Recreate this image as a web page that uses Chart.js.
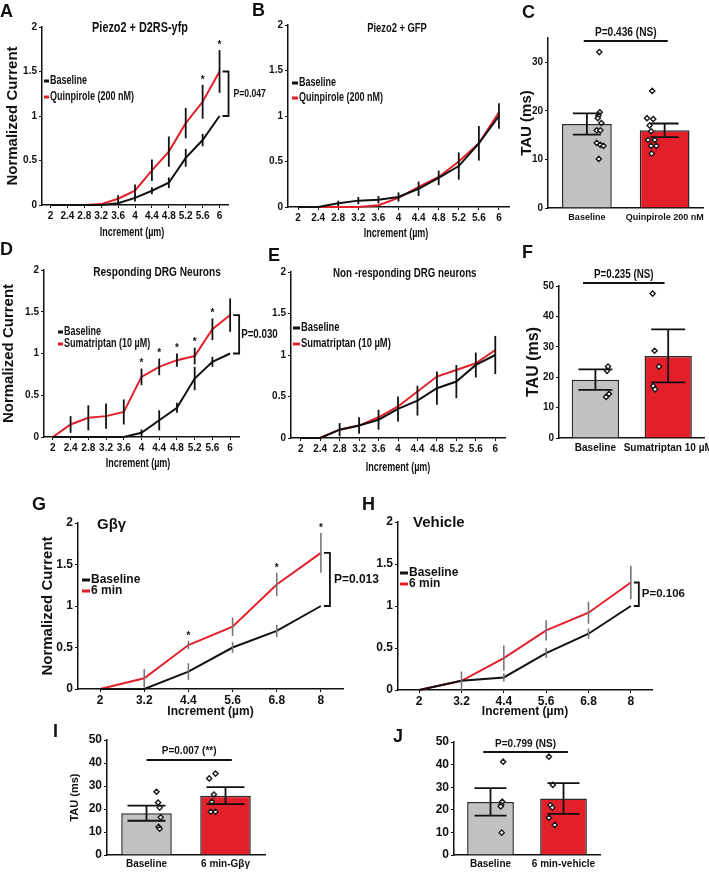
<!DOCTYPE html>
<html>
<head>
<meta charset="utf-8">
<script src="https://cdn.jsdelivr.net/npm/chart.js@4.4.0/dist/chart.umd.min.js"></script>
<style>
body{margin:0;background:#fff;}
#wrap{position:relative;width:709px;height:872px;overflow:hidden;background:#fff;}
canvas{position:absolute;}
.t{position:absolute;white-space:nowrap;color:#111;font-weight:bold;line-height:1;}
</style>
</head>
<body>
<div id="wrap"></div>
<script>
const ARIAL = "'Liberation Sans',Arial,sans-serif";
const NX = 0.75;   // horizontal squeeze used to mimic the narrow face
const RED = '#e3202a';
const GRAY = '#c2c2c2';

//---------------- data ----------------
const incLabels  = ['2','2.4','2.8','3.2','3.6','4','4.4','4.8','5.2','5.6','6'];
const incLabels2 = ['2','3.2','4.4','5.6','6.8','8'];

// A  Piezo2 + D2RS-yfp
const aBase    = [0,0,0,0,0.02,0.08,0.16,0.25,0.53,0.73,1.0];
const aBaseErr = [0,0,0,0,0.02,0.04,0.04,0.06,0.1,0.07,0];
const aQuin    = [0,0,0,0.01,0.07,0.16,0.39,0.6,0.92,1.16,1.5];
const aQuinErr = [0,0,0,0,0.04,0.07,0.12,0.17,0.17,0.19,0.24];
const aStars   = [9,10];

// B  Piezo2 + GFP
const bBase    = [0,0,0.04,0.07,0.08,0.11,0.2,0.32,0.45,0.7,1.0];
const bBaseErr = [0,0,0.03,0.04,0.04,0.05,0.08,0.08,0.15,0.19,0.14];
const bQuin    = [0,0,0,0,0.02,0.1,0.22,0.33,0.5,0.7,1.04];

// C  TAU quinpirole
const cNames   = ['Baseline','Quinpirole 200 nM'];
const cMean    = [17.3,16.0];
const cSem     = [2.2,1.4];
const cBasePts = [32.1,19.7,19.0,18.5,17.5,16.0,16.0,13.4,13.0,12.8,10.1];
const cQuinPts = [24.1,18.5,18.3,17.0,15.8,14.0,14.0,12.8,12.8,11.2];

// D  Responding DRG neurons
const dBase    = [0,0,0,0,0,0.05,0.2,0.35,0.7,0.9,1.0];
const dBaseErr = [0,0,0,0,0,0.04,0.12,0.06,0.14,0.06,0];
const dSuma    = [0,0.15,0.23,0.25,0.3,0.72,0.84,0.92,0.97,1.29,1.46];
const dSumaErr = [0,0.1,0.15,0.15,0.15,0.1,0.1,0.08,0.1,0.13,0.2];
const dStars   = [5,6,7,8,9];

// E  Non-responding DRG neurons
const eBase    = [0,0,0.1,0.15,0.22,0.35,0.45,0.6,0.68,0.88,1.0];
const eBaseErr = [0,0,0.08,0.1,0.12,0.15,0.18,0.2,0.2,0.15,0.23];
const eSuma    = [0,0,0.1,0.15,0.25,0.38,0.56,0.74,0.82,0.9,1.06];

// F  TAU sumatriptan
const fNames   = ['Baseline','Sumatriptan 10 µM'];
const fMean    = [19.2,27.0];
const fSem     = [3.4,8.7];
const fBasePts = [23.5,22.1,14.5,13.5];
const fSumaPts = [47.5,28.7,23.5,17.1,16.0];

// G  Gβγ
const gBase    = [0,0,0.21,0.5,0.7,1.0];
const gBaseErr = [0,0,0.1,0.065,0.075,0];
const gMin     = [0,0.13,0.53,0.75,1.26,1.64];
const gMinErr  = [0,0.11,0.05,0.11,0.14,0.24];
const gStars   = [2,4,5];

// H  Vehicle
const hBase    = [0,0.11,0.15,0.44,0.67,1.0];
const hBaseErr = [0,0,0.05,0.06,0.06,0];
const hMin     = [0,0.11,0.38,0.71,0.92,1.28];
const hMinErr  = [0,0.11,0.15,0.12,0.13,0.2];

// I  TAU Gβγ
const iNames   = ['Baseline','6 min-Gβγ'];
const iMean    = [18.2,25.8];
const iSem     = [3.3,3.7];
const iBasePts = [27.5,22.8,20.6,16.4,12.2,11.4];
const iMinPts  = [33.3,35.4,26.3,23.2,18.8,18.8];

// J  TAU vehicle
const jNames   = ['Baseline','6 min-vehicle'];
const jMean    = [23.5,25.0];
const jSem     = [6.1,6.8];
const jBasePts = [41.3,23.6,22.1,21.5,9.9];
const jMinPts  = [43.5,31.0,22.1,21.0,16.5,13.3];

//---------------- layout helpers ----------------
// scatter jitter (category units)
const cJit = [[-0.01,0,-0.03,-0.04,0.03,-0.06,0.01,-0.06,0.01,0.07,-0.02],[0.01,-0.09,0.03,-0.04,-0.01,-0.07,0.06,-0.01,0.09,0]];
const fJit = [[0.01,-0.01,0.03,-0.03],[-0.07,-0.03,0.06,-0.06,-0.02]];
const iJit = [[-0.06,-0.03,0,0.02,-0.02,0],[-0.06,0.06,0.03,-0.01,-0.03,0.06]];
const jJit = [[0.01,-0.01,-0.03,-0.04,-0.02],[-0.05,0.03,-0.02,0.02,-0.05,0.07]];

const wrap = document.getElementById('wrap');

function txt(x, y, s, size, center, sx){
	const d = document.createElement('div');
	d.className = 't';
	d.textContent = s;
	d.style.left = x + 'px';
	d.style.top = y + 'px';
	d.style.fontSize = size + 'px';
	d.style.fontFamily = ARIAL;
	d.style.transformOrigin = center ? '50% 50%' : '0 50%';
	d.style.transform = (center ? 'translate(-50%,-50%)' : 'translate(0,-50%)') + ' scaleX(' + (sx || 1) + ')';
	wrap.appendChild(d);
}

function place(p){
	const c = document.createElement('canvas');
	c.width = p.W; c.height = p.H;
	c.style.left = p.L + 'px'; c.style.top = p.T + 'px';
	c.style.width = p.W + 'px'; c.style.height = p.H + 'px';
	wrap.appendChild(c);
	return c;
}

function ftext(ctx, s, x, y, font, align, sx){
	ctx.save();
	ctx.font = font;
	ctx.textAlign = align;
	ctx.textBaseline = 'middle';
	ctx.fillStyle = '#111';
	ctx.translate(x, y);
	ctx.scale(sx || 1, 1);
	ctx.fillText(s, 0, 0);
	ctx.restore();
}

// error bars, stars, brackets, legend, significance line
const extras = {
	id: 'extras',
	afterDatasetsDraw(chart, args, o){
		const ctx = chart.ctx;
		const xs = chart.scales.x, ys = chart.scales.y;
		const ox = o.off[0], oy = o.off[1];
		ctx.save();
		(o.errs || []).forEach(e => {
			ctx.strokeStyle = e.color;
			ctx.lineWidth = e.width;
			e.mean.forEach((m, i) => {
				const d = e.err[i];
				if (!d) return;
				const x = xs.getPixelForValue(i);
				const y1 = ys.getPixelForValue(m - d), y2 = ys.getPixelForValue(m + d);
				ctx.beginPath();
				ctx.moveTo(x, y1); ctx.lineTo(x, y2);
				if (e.cap){
					ctx.moveTo(x - e.cap, y1); ctx.lineTo(x + e.cap, y1);
					ctx.moveTo(x - e.cap, y2); ctx.lineTo(x + e.cap, y2);
				}
				ctx.stroke();
			});
		});
		if (o.stars){
			const s = o.stars;
			s.idx.forEach(i => {
				const x = xs.getPixelForValue(i);
				const y = ys.getPixelForValue(s.mean[i] + s.err[i]) - 5;
				ftext(ctx, '*', x, y, s.font, 'center', 1);
			});
		}
		if (o.bracket && o.bracket.text){
			const b = o.bracket;
			const x = xs.getPixelForValue(b.i);
			const yh = ys.getPixelForValue(b.hi), yl = ys.getPixelForValue(b.lo);
			ctx.strokeStyle = '#111';
			ctx.lineWidth = 1.8;
			ctx.beginPath();
			ctx.moveTo(x + b.gap, yh); ctx.lineTo(x + b.gap + b.w, yh);
			ctx.lineTo(x + b.gap + b.w, yl); ctx.lineTo(x + b.gap, yl);
			ctx.stroke();
			ftext(ctx, b.text, x + b.gap + b.w + b.tx, (yh + yl) / 2, b.font, 'left', b.sx);
		}
		if (o.sig){
			const g = o.sig;
			const p0 = xs.getPixelForValue(0), p1 = xs.getPixelForValue(1);
			const x0 = p0 + g.from * (p1 - p0), x1 = p0 + g.to * (p1 - p0);
			const y = ys.getPixelForValue(g.v);
			ctx.strokeStyle = '#111';
			ctx.lineWidth = 2;
			ctx.beginPath(); ctx.moveTo(x0, y); ctx.lineTo(x1, y); ctx.stroke();
			ftext(ctx, g.text, (x0 + x1) / 2, y - g.dy, g.font, 'center', g.sx);
		}
		if (o.legend){
			const g = o.legend;
			chart.data.datasets.forEach((ds, k) => {
				const x = g.x - ox, y = g.y - oy + k * g.dy;
				ctx.fillStyle = ds.borderColor;
				ctx.fillRect(x, y - 1.5, g.w, 3);
				ftext(ctx, ds.label, x + g.w + 1, y, g.font, 'left', g.sx);
			});
		}
		ctx.restore();
	}
};

function axisBase(){
	return {
		grid: {drawOnChartArea:false, tickLength:3, color:'#111'},
		border: {color:'#111', width:1.5}
	};
}

function lineChart(p){
	const c = place(p);
	const n = p.labels.length - 1;
	new Chart(c, {
		type: 'line',
		data: {
			labels: p.labels,
			datasets: [
				{label: p.names[0], data: p.base, borderColor:'#111', borderWidth:2, pointRadius:0, tension:0, clip:6},
				{label: p.names[1], data: p.treat, borderColor:RED, borderWidth:2, pointRadius:0, tension:0, clip:6}
			]
		},
		options: {
			responsive:false, animation:false, devicePixelRatio:1,
			layout: {padding:{left:0, top:p.area.t - p.T, right:p.L + p.W - p.area.r, bottom:0}},
			plugins: {
				legend:{display:false}, tooltip:{enabled:false},
				extras: {
					off:[p.L, p.T],
					errs: p.errs,
					stars: p.stars,
					bracket: {i:n, hi:p.treat[n], lo:p.base[n], gap:3, w:p.bw || 6, tx:p.tx, text:p.pText, font:p.pFont, sx:p.pSx},
					legend: p.legend
				}
			},
			scales: {
				x: Object.assign(axisBase(), {
					type:'category', offset:true,
					ticks:{color:'#111', font:p.tickFont, padding:p.xPad || 2, maxRotation:0, autoSkip:false},
					title: p.xTitle ? {display:true, text:'Increment (µm)', color:'#111', font:p.xTitleFont, padding:{top:0, bottom:4}} : {display:false},
					afterFit: s => { s.height = p.T + p.H - p.area.b; }
				}),
				y: Object.assign(axisBase(), {
					min:0, max:2,
					ticks:{stepSize:0.5, color:'#111', font:p.tickFont, padding:2, callback: v => String(v)},
					title: p.yTitle ? {display:true, text:'Normalized Current', color:'#111', font:p.yTitleFont, padding:{top:p.yTitlePad, bottom:0}} : {display:false},
					afterFit: s => { s.width = p.area.l - p.L; }
				})
			}
		},
		plugins: [extras]
	});
}

function barChart(p){
	const c = place(p);
	const pts = p.pts[0].map((v, i) => ({x: p.jit[0][i], y: v}))
		.concat(p.pts[1].map((v, i) => ({x: 1 + p.jit[1][i], y: v})));
	new Chart(c, {
		type: 'bar',
		data: {
			labels: p.names,
			datasets: [
				{type:'bar', data:p.mean, backgroundColor:[GRAY, RED], borderColor:'#2a2a2a', borderWidth:1.5,
				 barPercentage:p.barPct, categoryPercentage:1, grouped:false, order:2},
				{type:'scatter', xAxisID:'xj', data:pts, pointStyle:'rectRot', pointRadius:2.6,
				 backgroundColor:'#fff', borderColor:'#1a1a1a', borderWidth:1.4, order:1}
			]
		},
		options: {
			responsive:false, animation:false, devicePixelRatio:1,
			layout: {padding:{left:0, top:p.area.t - p.T, right:p.L + p.W - p.area.r, bottom:0}},
			plugins: {
				legend:{display:false}, tooltip:{enabled:false},
				extras: {
					off:[p.L, p.T],
					errs: [{mean:p.mean, err:p.sem, color:'#111', width:1.8, cap:p.cap}],
					sig: p.sig
				}
			},
			scales: {
				x: {
					type:'category', offset:true,
					grid:{display:false, drawTicks:false},
					border:{color:'#111', width:1.5},
					ticks:{color:'#111', font:p.xFont, padding:p.xPad, maxRotation:0, autoSkip:false},
					afterFit: s => { s.height = p.T + p.H - p.area.b; }
				},
				xj: {type:'linear', min:-0.5, max:1.5, display:false},
				y: Object.assign(axisBase(), {
					min:0, max:p.ymax,
					ticks:{stepSize:10, color:'#111', font:p.tickFont, padding:2},
					afterBuildTicks: s => { s.ticks = s.ticks.filter(t => t.value % 10 === 0); },
					title: p.yTitle ? {display:true, text:'TAU (ms)', color:'#111', font:p.yTitleFont, padding:{top:p.yTitlePad, bottom:0}} : {display:false},
					afterFit: s => { s.width = p.area.l - p.L; }
				})
			}
		},
		plugins: [extras]
	});
}

const fA = s => ({family:ARIAL, size:s, weight:'bold'});
const bA = s => 'bold ' + s + 'px ' + ARIAL;

//---------------- panels ----------------
lineChart({
	L:0, T:10, W:290, H:232, area:{l:42, t:27, r:228, b:205},
	labels:incLabels, names:['Baseline','Quinpirole (200 nM)'], base:aBase, treat:aQuin,
	errs:[{mean:aBase, err:aBaseErr, color:'#111', width:1.8}, {mean:aQuin, err:aQuinErr, color:'#111', width:1.8}],
	stars:{idx:aStars, mean:aQuin, err:aQuinErr, font:bA(10)},
	pText:'P=0.047', pFont:bA(11.5), pSx:NX, tx:5,
	legend:{x:44, y:81, dy:16, w:5, font:bA(12), sx:NX},
	tickFont:fA(10), yTitle:true, yTitleFont:fA(15), yTitlePad:4
});

lineChart({
	L:262, T:10, W:252, H:234, area:{l:288, t:25, r:509, b:207},
	labels:incLabels, names:['Baseline','Quinpirole (200 nM)'], base:bBase, treat:bQuin,
	errs:[{mean:bBase, err:bBaseErr, color:'#111', width:1.8}],
	pText:'', tx:4,
	legend:{x:292, y:83, dy:15, w:6, font:bA(12), sx:NX},
	tickFont:fA(10), yTitle:false
});

barChart({
	L:514, T:15, W:195, H:213, area:{l:548, t:38, r:704, b:208},
	names:cNames, mean:cMean, sem:cSem, pts:[cBasePts, cQuinPts], jit:cJit,
	ymax:35, barPct:0.64, cap:14,
	sig:{from:-0.04, to:1.04, v:34.4, text:'P=0.436 (NS)', font:bA(13.5), sx:NX, dy:9},
	tickFont:fA(10), xFont:fA(9), xPad:4, yTitle:true, yTitleFont:fA(15), yTitlePad:4
});

lineChart({
	L:0, T:255, W:300, H:219, area:{l:44, t:270, r:239, b:437},
	labels:incLabels, names:['Baseline','Sumatriptan (10 µM)'], base:dBase, treat:dSuma,
	errs:[{mean:dBase, err:dBaseErr, color:'#111', width:1.8}, {mean:dSuma, err:dSumaErr, color:'#111', width:1.8}],
	stars:{idx:dStars, mean:dSuma, err:dSumaErr, font:bA(10)},
	pText:'P=0.030', pFont:bA(13), pSx:NX, tx:2,
	legend:{x:58, y:332, dy:12, w:5, font:bA(12), sx:NX},
	tickFont:fA(10), yTitle:true, yTitleFont:fA(15), yTitlePad:0
});

lineChart({
	L:268, T:257, W:240, H:221, area:{l:291, t:272, r:505, b:438},
	labels:incLabels, names:['Baseline','Sumatriptan (10 µM)'], base:eBase, treat:eSuma,
	errs:[{mean:eBase, err:eBaseErr, color:'#111', width:1.8}],
	pText:'', tx:4,
	legend:{x:293, y:328, dy:16, w:7, font:bA(12.5), sx:NX},
	tickFont:fA(10), yTitle:false
});

barChart({
	L:520, T:250, W:200, H:208, area:{l:559, t:286, r:707, b:438},
	names:fNames, mean:fMean, sem:fSem, pts:[fBasePts, fSumaPts], jit:fJit,
	ymax:50, barPct:0.65, cap:17,
	sig:{from:-0.17, to:0.95, v:51, text:'P=0.235 (NS)', font:bA(13), sx:NX, dy:9},
	tickFont:fA(10), xFont:fA(10), xPad:4, yTitle:true, yTitleFont:fA(16), yTitlePad:4
});

lineChart({
	L:35, T:505, W:350, H:218, area:{l:78, t:523, r:343, b:689},
	labels:incLabels2, names:['Baseline','6 min'], base:gBase, treat:gMin,
	errs:[{mean:gBase, err:gBaseErr, color:'#777', width:1.6}, {mean:gMin, err:gMinErr, color:'#777', width:1.6}],
	stars:{idx:gStars, mean:gMin, err:gMinErr, font:bA(10)},
	pText:'P=0.013', pFont:bA(12), pSx:1, tx:4, bw:6,
	legend:{x:82, y:580, dy:11, w:8, font:bA(12), sx:1},
	tickFont:fA(12), xTitle:true, xTitleFont:fA(12), xPad:1, yTitle:true, yTitleFont:fA(15), yTitlePad:4
});

lineChart({
	L:370, T:505, W:330, H:218, area:{l:398, t:522, r:652, b:690},
	labels:incLabels2, names:['Baseline','6 min'], base:hBase, treat:hMin,
	errs:[{mean:hBase, err:hBaseErr, color:'#777', width:1.6}, {mean:hMin, err:hMinErr, color:'#777', width:1.6}],
	pText:'P=0.106', pFont:bA(11.5), pSx:1, tx:3, bw:5,
	legend:{x:400, y:573, dy:11, w:8, font:bA(12), sx:1},
	tickFont:fA(12), xTitle:true, xTitleFont:fA(12), xPad:1, yTitle:false
});

barChart({
	L:64, T:730, W:210, H:142, area:{l:107, t:740, r:265, b:855},
	names:iNames, mean:iMean, sem:iSem, pts:[iBasePts, iMinPts], jit:iJit,
	ymax:50, barPct:0.64, cap:19,
	sig:{from:0, to:1.08, v:41.3, text:'P=0.007 (**)', font:bA(10), sx:1, dy:9},
	tickFont:fA(12), xFont:fA(10), xPad:3, yTitle:true, yTitleFont:fA(11), yTitlePad:4
});

barChart({
	L:425, T:730, W:284, H:142, area:{l:454, t:742, r:600, b:855},
	names:jNames, mean:jMean, sem:jSem, pts:[jBasePts, jMinPts], jit:jJit,
	ymax:50, barPct:0.64, cap:16,
	sig:{from:-0.1, to:1.06, v:45.6, text:'P=0.799 (NS)', font:bA(10), sx:1, dy:8},
	tickFont:fA(12), xFont:fA(10), xPad:3, yTitle:false
});

//---------------- titles, axis names, panel letters ----------------
txt(140, 27, 'Piezo2 + D2RS-yfp', 14.5, true, NX);
txt(397, 28, 'Piezo2 + GFP', 12.5, true, NX);
txt(157, 272, 'Responding DRG Neurons', 13.5, true, NX);
txt(333, 272, 'Non -responding DRG neurons', 13, false, NX);
txt(97, 523, 'Gβγ', 15, false, 1);
txt(413, 521, 'Vehicle', 15, false, 1);

txt(132, 232, 'Increment (µm)', 12, true, NX);
txt(396, 233, 'Increment (µm)', 12, true, NX);
txt(138, 463, 'Increment (µm)', 12, true, NX);
txt(398, 467, 'Increment (µm)', 12, true, NX);

[['A',0,11],['B',252,10],['C',522,12],['D',0,249],['E',268,255],['F',522,252],
 ['G',32,504],['H',362,504],['I',53,731],['J',393,736]].forEach(l => txt(l[1], l[2], l[0], 18, false, 1));
</script>
</body>
</html>
